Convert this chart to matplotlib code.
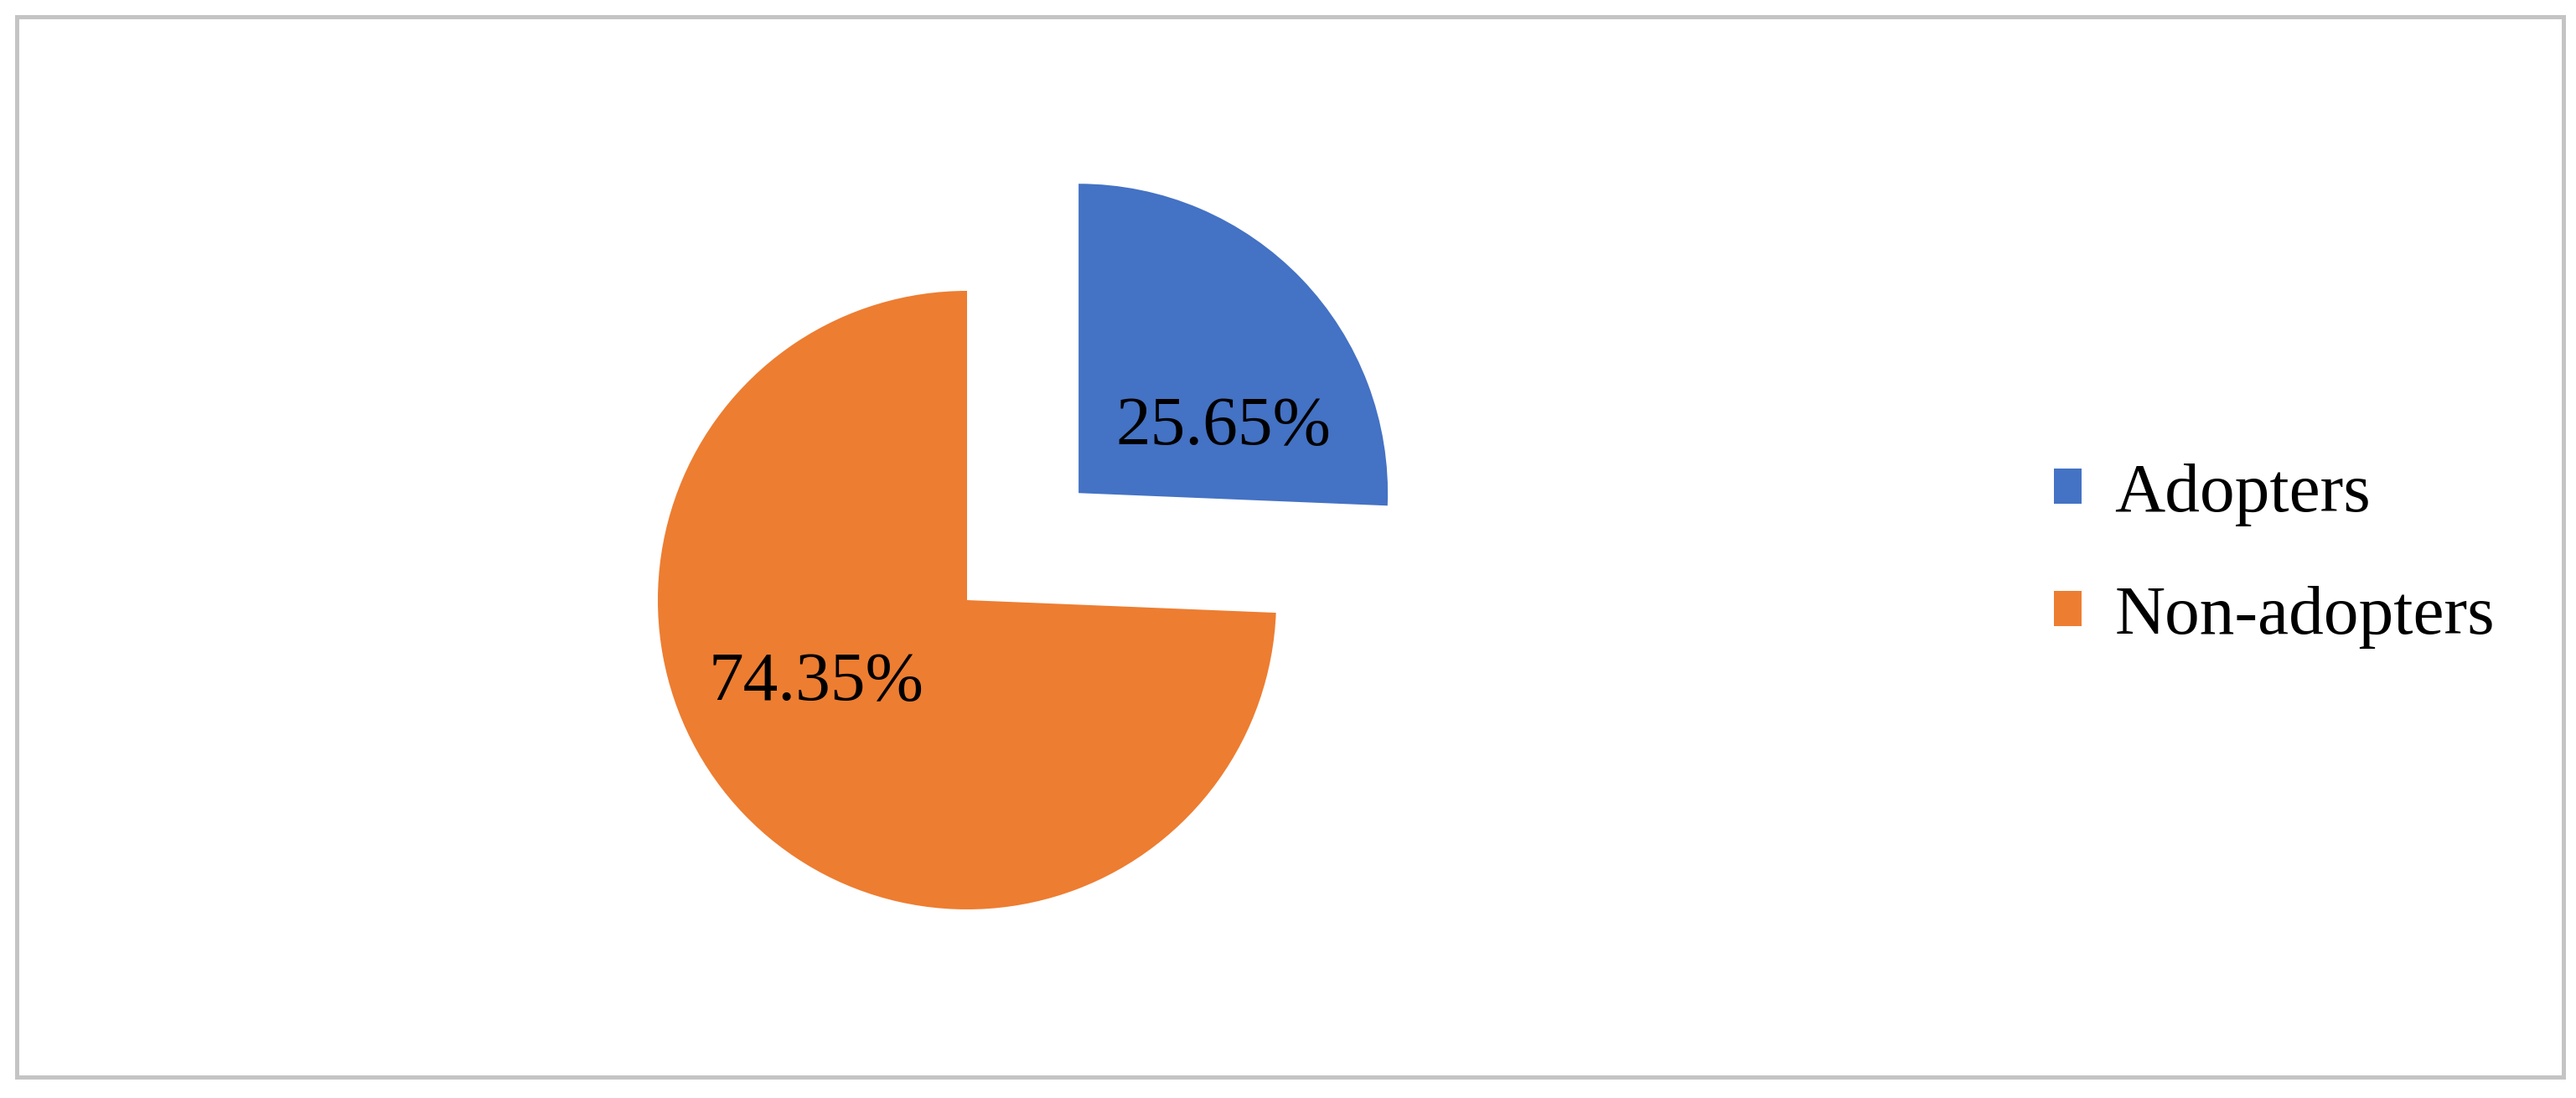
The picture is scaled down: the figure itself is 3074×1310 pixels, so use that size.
import matplotlib
matplotlib.use("Agg")
import matplotlib.pyplot as plt
from matplotlib.patches import Rectangle
import numpy as np

categories = ["Adopters", "Non-adopters"]
shares = [25.65, 74.35]
colors = ["#4472C4", "#ED7D31"]
explode = [0.5, 0.0]

plt.rcParams["font.family"] = ["Liberation Serif", "DejaVu Serif"]

W, H = 3074, 1310
fig = plt.figure(figsize=(W / 100, H / 100), dpi=100)
ax = fig.add_axes([0, 0, 1, 1])

wedges, _, autotexts = ax.pie(
    shares, colors=colors, explode=explode, startangle=90, counterclock=False,
    radius=1.0, autopct="%.2f%%", wedgeprops=dict(linewidth=0),
    textprops=dict(fontsize=60, color="black"))

# label offsets relative to each wedge's apex (in radius units)
label_offsets = [(0.468, 0.21), (-0.488, -0.27)]
for w, t, (dx, dy) in zip(wedges, autotexts, label_offsets):
    cx, cy = w.center
    t.set_position((cx + dx, cy + dy))
    t.set_ha("center"); t.set_va("center")

# place the pie: orange apex at (1154, 716) px from top-left, radius 369 px
cx_px, cy_px, r_px = 1154, 716, 369
ax.set_xlim(-cx_px / r_px, (W - cx_px) / r_px)
ax.set_ylim(-(H - cy_px) / r_px, cy_px / r_px)
ax.set_aspect("auto")
ax.axis("off")

leg = fig.legend(wedges, categories, loc="center left",
                 bbox_to_anchor=(2451 / W, 1 - 663 / H), frameon=False,
                 fontsize=60, handlelength=0.4, handleheight=0.4,
                 handletextpad=0.47, labelspacing=0.85, borderpad=0,
                 borderaxespad=0)

fig.patches.append(Rectangle((19.5 / W, 25 / H), (3059 - 19.5) / W, (1290.5 - 25) / H,
                             transform=fig.transFigure, fill=False,
                             edgecolor="#C4C4C4", linewidth=3.6))

fig.savefig("out.png", dpi=100, facecolor="white")
